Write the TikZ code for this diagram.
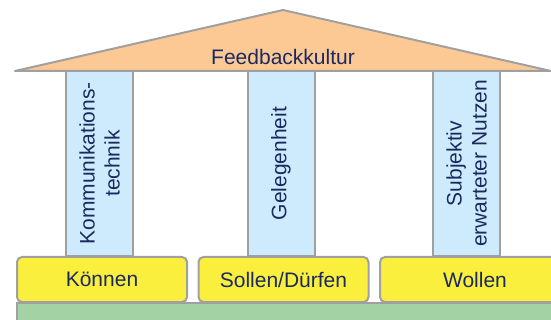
\documentclass[tikz,border=0pt]{standalone}
\usepackage{fontspec}
\setmainfont{Liberation Sans}
\usepackage{tikz}
\usetikzlibrary{positioning,calc}
\definecolor{roofc}{HTML}{FCC995}
\definecolor{pillarc}{HTML}{CDEBFD}
\definecolor{basec}{HTML}{FAEF3C}
\definecolor{groundc}{HTML}{A3D3A5}
\definecolor{edgec}{HTML}{A0A0A0}
\definecolor{textc}{HTML}{1B2A5E}

\begin{document}
\begin{tikzpicture}[x=1pt,y=-1pt,
  pillar/.style={draw=edgec,line width=2pt,fill=pillarc,minimum width=67pt,minimum height=185pt,inner sep=0pt},
  ptext/.style={rotate=90,align=center,text=textc,font=\fontsize{21}{25}\selectfont},
  basebox/.style={draw=edgec,line width=2pt,fill=basec,rounded corners=5pt,minimum width=170pt,minimum height=45pt,inner sep=0pt,text=textc,font=\fontsize{21}{24}\selectfont}]
\useasboundingbox (0,0) rectangle (551,320);
\clip (0,0) rectangle (551,320);

% Fundament
\draw[draw=edgec,line width=2pt,fill=groundc] (17,303) rectangle (570,340);

% Saeulen
\node[pillar] (p1) at (99.5,163.5) {};
\node[pillar] (p2) at (281,163.5) {};
\node[pillar] (p3) at (466.5,163.5) {};
\node[ptext] (t1) at (p1) {Kommunikations-\\technik};
\node[ptext] (t2) at (p2) {Gelegenheit};
\node[ptext] (t3) at (p3) {Subjektiv\\erwarteter Nutzen};

% Sockel
\node[basebox] (b1) at (102,279.5) {K\"onnen};
\node[basebox] (b2) at (283.5,279.5) {Sollen/D\"urfen};
\node[basebox,minimum width=190pt] (b3) at (475,279.5) {Wollen};

% Dach
\draw[draw=edgec,line width=2pt,fill=roofc,line join=round] (15,71) -- (283,10) -- (551,71) -- cycle;
\node[text=textc,font=\fontsize{21}{24}\selectfont] (roof) at (283,57) {Feedbackkultur};
\end{tikzpicture}
\end{document}
